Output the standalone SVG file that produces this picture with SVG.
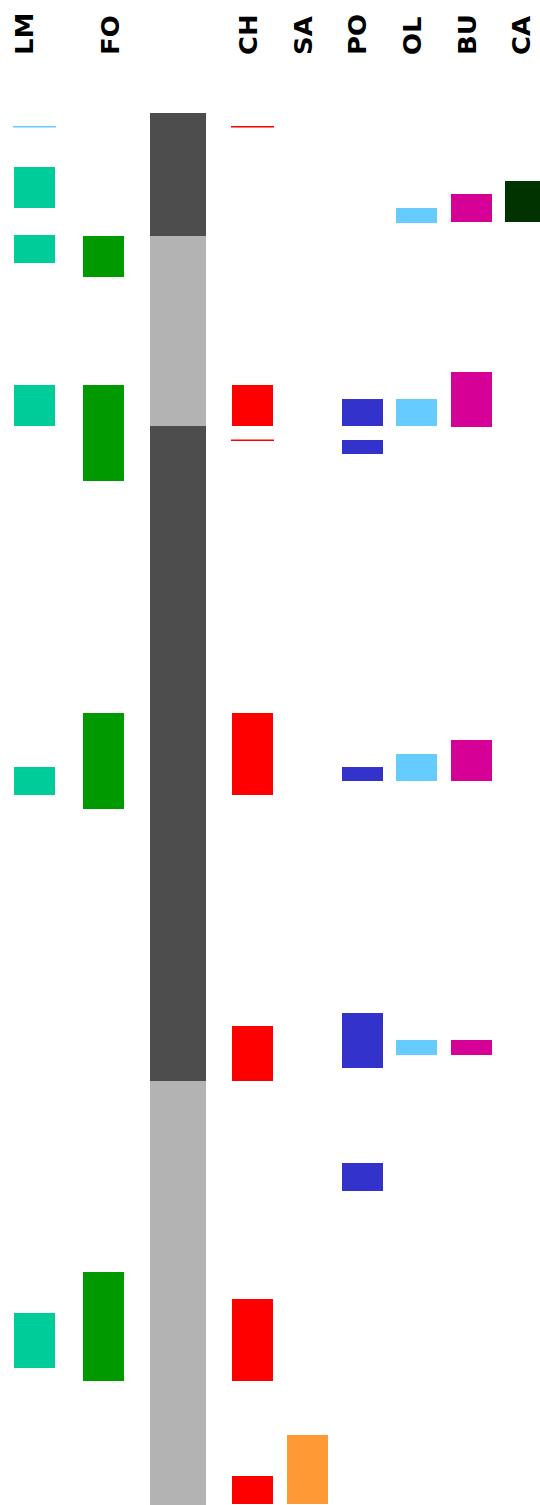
<svg xmlns="http://www.w3.org/2000/svg" width="540" height="1505" viewBox="0 0 540 1505">
<style>
.lbl{font-family:"DejaVu Sans",sans-serif;font-weight:bold;font-size:24px;fill:#000}
.lm{fill:#00cc99}.fo{fill:#009900}.ch{fill:#ff0000}.sa{fill:#ff9933}.po{fill:#3333cc}.ol{fill:#66ccff}.bu{fill:#d60096}.ca{fill:#003300}
.dk{fill:#4d4d4d}.lt{fill:#b3b3b3}
</style>
<rect width="540" height="1505" fill="#fff"/>
<g id="labels">
<text class="lbl" transform="translate(33,55) rotate(-90) scale(1.08,1)">LM</text>
<text class="lbl" transform="translate(119,55) rotate(-90) scale(1.08,1)">FO</text>
<text class="lbl" transform="translate(257,55) rotate(-90) scale(1.08,1)">CH</text>
<text class="lbl" transform="translate(312,55) rotate(-90) scale(1.08,1)">SA</text>
<text class="lbl" transform="translate(366,55) rotate(-90) scale(1.08,1)">PO</text>
<text class="lbl" transform="translate(421,55) rotate(-90) scale(1.08,1)">OL</text>
<text class="lbl" transform="translate(476,55) rotate(-90) scale(1.08,1)">BU</text>
<text class="lbl" transform="translate(530,55) rotate(-90) scale(1.08,1)">CA</text>
</g>
<g id="axis">
<rect class="dk" x="150" y="113" width="56" height="123"/>
<rect class="lt" x="150" y="236" width="56" height="190"/>
<rect class="dk" x="150" y="426" width="56" height="655"/>
<rect class="lt" x="150" y="1081" width="56" height="424"/>
</g>
<g id="LM">
<rect x="13" y="126" width="43" height="1.5" fill="#66ccff"/>
<rect class="lm" x="14" y="167" width="41" height="41"/>
<rect class="lm" x="14" y="235" width="41" height="28"/>
<rect class="lm" x="14" y="385" width="41" height="41"/>
<rect class="lm" x="14" y="767" width="41" height="28"/>
<rect class="lm" x="14" y="1313" width="41" height="55"/>
</g>
<g id="FO">
<rect class="fo" x="83" y="236" width="41" height="41"/>
<rect class="fo" x="83" y="385" width="41" height="96"/>
<rect class="fo" x="83" y="713" width="41" height="96"/>
<rect class="fo" x="83" y="1272" width="41" height="109"/>
</g>
<g id="CH">
<rect class="ch" x="231" y="126" width="43" height="1.5"/>
<rect class="ch" x="232" y="385" width="41" height="41"/>
<rect class="ch" x="231" y="439.5" width="43" height="1.5"/>
<rect class="ch" x="232" y="713" width="41" height="82"/>
<rect class="ch" x="232" y="1026" width="41" height="55"/>
<rect class="ch" x="232" y="1299" width="41" height="82"/>
<rect class="ch" x="232" y="1476" width="41" height="28"/>
</g>
<g id="SA">
<rect class="sa" x="287" y="1435" width="41" height="69"/>
</g>
<g id="PO">
<rect class="po" x="342" y="399" width="41" height="27"/>
<rect class="po" x="342" y="440" width="41" height="14"/>
<rect class="po" x="342" y="767" width="41" height="14"/>
<rect class="po" x="342" y="1013" width="41" height="55"/>
<rect class="po" x="342" y="1163" width="41" height="28"/>
</g>
<g id="OL">
<rect class="ol" x="396" y="208" width="41" height="15"/>
<rect class="ol" x="396" y="399" width="41" height="27"/>
<rect class="ol" x="396" y="754" width="41" height="27"/>
<rect class="ol" x="396" y="1040" width="41" height="15"/>
</g>
<g id="BU">
<rect class="bu" x="451" y="194" width="41" height="28"/>
<rect class="bu" x="451" y="372" width="41" height="55"/>
<rect class="bu" x="451" y="740" width="41" height="41"/>
<rect class="bu" x="451" y="1040" width="41" height="15"/>
</g>
<g id="CA">
<rect class="ca" x="505" y="181" width="35" height="41"/>
</g>
</svg>
